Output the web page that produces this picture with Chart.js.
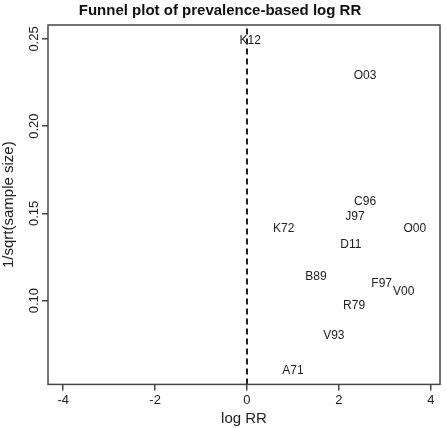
<!DOCTYPE html>
<html><head><meta charset="utf-8">
<script src="https://cdn.jsdelivr.net/npm/chart.js@4"></script>
<style>html,body{margin:0;background:#fff}#wrap{width:447px;height:428px}</style>
</head><body><div id="wrap"><canvas id="c"></canvas></div>
<script>
const codes = ['K12','O03','C96','J97','K72','O00','D11','B89','F97','V00','R79','V93','A71'];
const logRR = [0.07,2.57,2.57,2.35,0.80,3.65,2.26,1.50,2.93,3.41,2.33,1.89,1.00];
const invSqrtN = [0.249,0.229,0.157,0.148,0.141,0.141,0.132,0.114,0.110,0.105,0.097,0.080,0.060];
const xTicks = [-4,-2,0,2,4];
const yTicks = [0.10,0.15,0.20,0.25];
const font = 'Liberation Sans, Arial, sans-serif';

const labelPlugin = {
  id: 'labels',
  afterDatasetsDraw(chart) {
    const {ctx, scales: {x, y}, chartArea: a} = chart;
    ctx.save();
    ctx.fillStyle = '#222';
    ctx.font = '12px ' + font;
    ctx.textAlign = 'center';
    ctx.textBaseline = 'middle';
    codes.forEach((c, i) => ctx.fillText(c, x.getPixelForValue(logRR[i]), y.getPixelForValue(invSqrtN[i])));
    // rotated y tick labels
    ctx.font = '13px ' + font;
    yTicks.forEach(v => {
      ctx.save();
      ctx.translate(a.left - 14, y.getPixelForValue(v));
      ctx.rotate(-Math.PI / 2);
      ctx.fillText(v.toFixed(2), 0, 0);
      ctx.restore();
    });
    ctx.strokeStyle = '#444';
    ctx.lineWidth = 1.5;
    ctx.strokeRect(a.left, a.top, a.right - a.left, a.bottom - a.top);
    ctx.restore();
  }
};

new Chart(document.getElementById('c'), {
  type: 'scatter',
  data: {
    datasets: [
      {data: logRR.map((v, i) => ({x: v, y: invSqrtN[i]})), pointRadius: 0},
      {type: 'line', data: [{x: 0, y: 0.052}, {x: 0, y: 0.258}], borderColor: '#222', borderWidth: 2, borderDash: [6, 4], pointRadius: 0}
    ]
  },
  options: {
    responsive: true, maintainAspectRatio: false, animation: false,
    layout: {padding: {top: 0, right: 7, left: 0, bottom: 0}},
    plugins: {
      legend: {display: false}, tooltip: {enabled: false},
      title: {display: true, text: 'Funnel plot of prevalence-based log RR', color: '#111',
        font: {family: font, size: 15, weight: 'bold'}, padding: {top: 2, bottom: 5}}
    },
    scales: {
      x: {
        type: 'linear', min: -4.33, max: 4.2,
        afterBuildTicks: s => { s.ticks = xTicks.map(v => ({value: v})); },
        grid: {drawOnChartArea: false, tickLength: 6, color: '#444', lineWidth: 1.5},
        border: {display: false},
        ticks: {color: '#222', font: {family: font, size: 13}, padding: 2},
        title: {display: true, text: 'log RR', color: '#222', font: {family: font, size: 15}, padding: 0}
      },
      y: {
        type: 'linear', min: 0.052, max: 0.258,
        afterBuildTicks: s => { s.ticks = yTicks.map(v => ({value: v})); },
        afterFit: s => { s.width = 48; },
        grid: {drawOnChartArea: false, tickLength: 6, color: '#444', lineWidth: 1.5},
        border: {display: false},
        ticks: {color: 'rgba(0,0,0,0)', font: {family: font, size: 13}},
        title: {display: true, text: '1/sqrt(sample size)', color: '#222', font: {family: font, size: 15}, padding: 0}
      }
    }
  },
  plugins: [labelPlugin]
});
</script></body></html>
